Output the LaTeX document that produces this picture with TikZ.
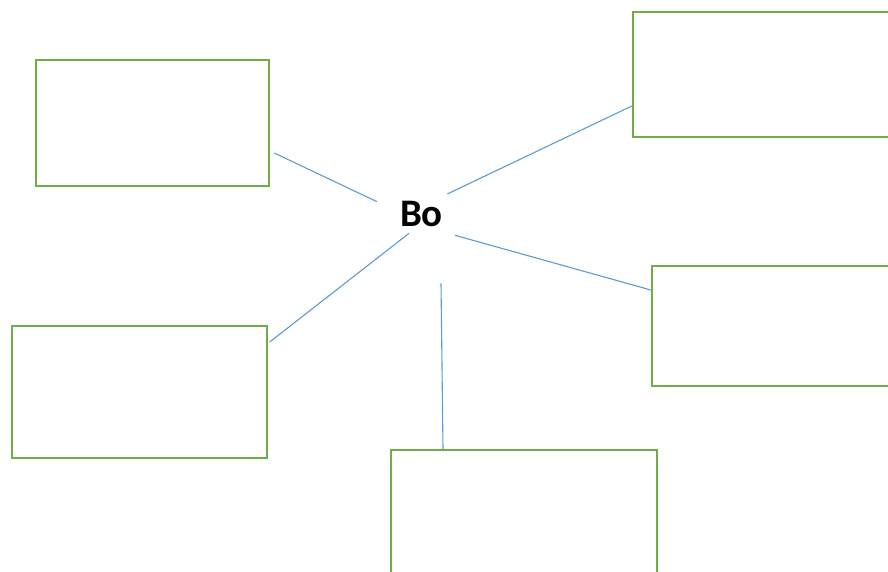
\documentclass[tikz,border=0pt]{standalone}
\usepackage{fontspec}
\setmainfont{Carlito}
\definecolor{boxgreen}{HTML}{70AD47}
\definecolor{linkblue}{HTML}{5B9BD5}
\tikzset{
  greenbox/.style={draw=boxgreen, line width=2.4pt, rectangle, inner sep=0pt, fill=none},
  link/.style={draw=linkblue, line width=1.1pt},
  hub/.style={font=\bfseries\fontsize{39}{42}\selectfont, inner sep=0pt, anchor=base}
}
\begin{document}
\begin{tikzpicture}[x=1pt,y=-1pt]
\useasboundingbox (0,0) rectangle (888,572);
\clip (0,0) rectangle (888,572);
\node[greenbox, minimum width=233pt, minimum height=126pt] (b1) at (152.5,123) {};
\node[greenbox, minimum width=260pt, minimum height=125pt] (b2) at (763,74.5) {};
\node[greenbox, minimum width=255pt, minimum height=132pt] (b3) at (139.5,392) {};
\node[greenbox, minimum width=260pt, minimum height=120pt] (b4) at (782,326) {};
\node[greenbox, minimum width=266pt, minimum height=130pt] (b5) at (524,515) {};
\node[hub] (bo) at (421.5,226) {Bo};
\draw[link] ([xshift=4pt,yshift=-30pt]b1.east) -- ([shift={(-44.5,-24.3)}]bo.base);
\draw[link] ([shift={(25.8,-32)}]bo.base) -- ([yshift=-31.5pt]b2.west);
\draw[link] ([shift={(33.5,9.3)}]bo.base) -- ([yshift=36pt]b4.west);
\draw[link] ([shift={(-12.5,7.3)}]bo.base) -- ([xshift=1.5pt,yshift=50pt]b3.east);
\draw[link] ([shift={(19.5,57.3)}]bo.base) -- ([xshift=-81pt]b5.north);
\end{tikzpicture}
\end{document}
